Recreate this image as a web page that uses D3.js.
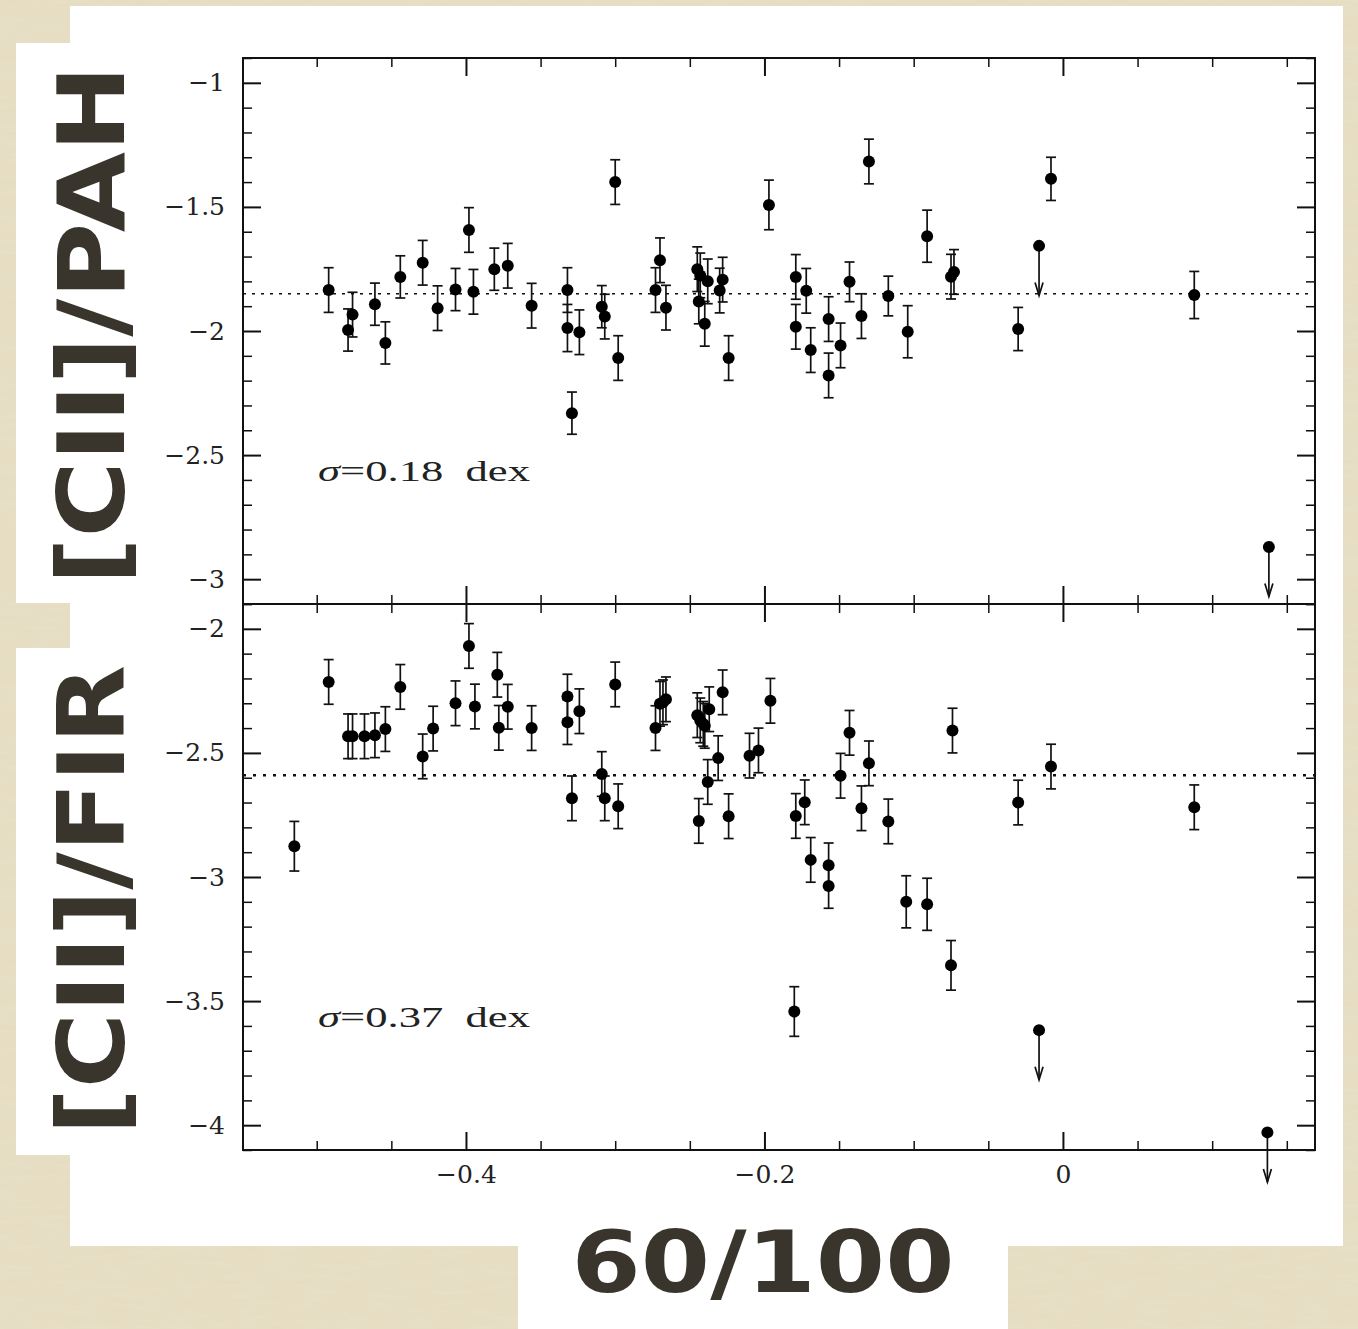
<!DOCTYPE html>
<html>
<head>
<meta charset="utf-8">
<script src="https://cdn.jsdelivr.net/npm/d3@7"></script>
<style>
  html, body { margin: 0; padding: 0; background: #e4dabd; }
  svg { display: block; }
</style>
</head>
<body>
<svg id="chart" width="1358" height="1329"></svg>
<script>
// 60/100 colour on the x axis, shared by both panels
const xTop = [-0.492,-0.479,-0.476,-0.461,-0.454,-0.444,-0.429,-0.419,-0.407,-0.398,-0.395,-0.381,-0.372,-0.356,-0.332,-0.332,-0.329,-0.324,-0.309,-0.307,-0.300,-0.298,-0.273,-0.270,-0.266,-0.245,-0.243,-0.244,-0.240,-0.238,-0.230,-0.228,-0.224,-0.197,-0.179,-0.179,-0.172,-0.169,-0.157,-0.157,-0.149,-0.143,-0.135,-0.130,-0.117,-0.104,-0.091,-0.075,-0.073,-0.030,-0.008,0.088];
const yTop = [-1.835,-1.996,-1.934,-1.892,-2.048,-1.782,-1.725,-1.908,-1.833,-1.593,-1.842,-1.751,-1.737,-1.898,-1.835,-1.988,-2.331,-2.005,-1.902,-1.942,-1.400,-2.109,-1.835,-1.715,-1.906,-1.751,-1.776,-1.881,-1.971,-1.800,-1.837,-1.793,-2.109,-1.492,-1.782,-1.983,-1.838,-2.077,-1.952,-2.179,-2.058,-1.802,-1.940,-1.317,-1.859,-2.003,-1.618,-1.781,-1.762,-1.992,-1.387,-1.855];
const eTop = [0.09,0.085,0.09,0.085,0.085,0.085,0.09,0.09,0.085,0.09,0.09,0.085,0.09,0.09,0.09,0.095,0.085,0.09,0.085,0.09,0.09,0.09,0.09,0.09,0.09,0.09,0.09,0.09,0.09,0.09,0.09,0.09,0.09,0.1,0.09,0.09,0.09,0.09,0.09,0.09,0.09,0.08,0.09,0.09,0.08,0.105,0.105,0.09,0.09,0.087,0.087,0.095];
const xTopLim = [-0.016, 0.138];
const yTopLim = [-1.657, -2.870];

const xBot = [-0.515,-0.492,-0.479,-0.476,-0.468,-0.461,-0.454,-0.444,-0.429,-0.422,-0.407,-0.398,-0.394,-0.379,-0.378,-0.372,-0.356,-0.332,-0.332,-0.329,-0.324,-0.309,-0.307,-0.300,-0.298,-0.273,-0.270,-0.268,-0.266,-0.245,-0.243,-0.241,-0.240,-0.237,-0.244,-0.238,-0.231,-0.228,-0.224,-0.210,-0.204,-0.196,-0.180,-0.179,-0.173,-0.169,-0.157,-0.157,-0.149,-0.143,-0.135,-0.130,-0.117,-0.105,-0.091,-0.074,-0.075,-0.030,-0.008,0.088];
const yBot = [-2.876,-2.214,-2.433,-2.433,-2.433,-2.429,-2.404,-2.234,-2.514,-2.402,-2.300,-2.069,-2.313,-2.185,-2.399,-2.314,-2.400,-2.273,-2.376,-2.683,-2.332,-2.585,-2.683,-2.224,-2.715,-2.400,-2.302,-2.296,-2.284,-2.348,-2.369,-2.383,-2.391,-2.324,-2.774,-2.617,-2.521,-2.256,-2.755,-2.511,-2.490,-2.290,-3.542,-2.754,-2.699,-2.931,-2.953,-3.036,-2.592,-2.419,-2.723,-2.542,-2.776,-3.100,-3.110,-2.410,-3.356,-2.700,-2.555,-2.719];
const eBot = [0.1,0.09,0.09,0.09,0.09,0.09,0.09,0.09,0.09,0.09,0.09,0.09,0.09,0.09,0.09,0.09,0.09,0.09,0.09,0.09,0.09,0.09,0.09,0.09,0.09,0.09,0.09,0.09,0.09,0.09,0.09,0.09,0.09,0.09,0.09,0.09,0.09,0.09,0.09,0.09,0.09,0.09,0.1,0.09,0.09,0.09,0.09,0.09,0.09,0.09,0.09,0.09,0.09,0.105,0.105,0.09,0.1,0.09,0.09,0.09];
const xBotLim = [-0.016, 0.137];
const yBotLim = [-3.617, -4.029];

const meanTop = -1.85;
const meanBot = -2.59;
const sigmaTop = "0.18";
const sigmaBot = "0.37";

const xMajor = [-0.4, -0.2, 0];
const xMinor = d3.range(-0.5, 0.16, 0.05).map(v => +v.toFixed(2));
const yTopMajor = [-3, -2.5, -2, -1.5, -1];
const yBotMajor = [-4, -3.5, -3, -2.5, -2];

const svg = d3.select("#chart");
const ink = "#111";
const brown = "#3a352c";

// paper texture behind everything
const defs = svg.append("defs");
const f = defs.append("filter").attr("id", "paper").attr("x", 0).attr("y", 0).attr("width", 1).attr("height", 1);
f.append("feTurbulence").attr("type", "fractalNoise").attr("baseFrequency", "0.03 0.2").attr("numOctaves", 3).attr("seed", 4);
f.append("feColorMatrix").attr("type", "matrix")
  .attr("values", "0 0 0 0 0.80  0 0 0 0 0.76  0 0 0 0 0.60  0 0 0 0.8 -0.15");
svg.append("rect").attr("width", 1358).attr("height", 1329).attr("fill", "#e6dcc1");
svg.append("rect").attr("width", 1358).attr("height", 1329).attr("filter", "url(#paper)");

// white cards
svg.append("rect").attr("x", 70).attr("y", 6).attr("width", 1273).attr("height", 1240).attr("fill", "#fff");
svg.append("rect").attr("x", 16).attr("y", 43).attr("width", 60).attr("height", 560).attr("fill", "#fff");
svg.append("rect").attr("x", 16).attr("y", 648).attr("width", 60).attr("height", 507).attr("fill", "#fff");
svg.append("rect").attr("x", 518).attr("y", 1240).attr("width", 490).attr("height", 89).attr("fill", "#fff");

const pL = 243, pR = 1315, pT = 58, pM = 604, pB = 1150;

const x = d3.scaleLinear().domain([-0.5494, 0.1689]).range([pL, pR]);
const yT = d3.scaleLinear().domain([-3.1, -0.9]).range([pM, pT]);
const yB = d3.scaleLinear().domain([-4.1, -1.9]).range([pB, pM]);

const fmt = d3.format("");
const serif = "'DejaVu Serif', 'Liberation Serif', serif";

function yAxes(y, major) {
  const minor = d3.range(Math.round(y.domain()[0] * 10), Math.round(y.domain()[1] * 10) + 1)
    .map(v => v / 10).filter(v => !major.includes(v));
  const gl = svg.append("g").attr("transform", `translate(${pL},0)`)
    .call(d3.axisLeft(y).tickValues(major).tickSizeInner(-18).tickSizeOuter(0).tickPadding(18).tickFormat(fmt));
  gl.select(".domain").remove();
  gl.selectAll("line").attr("stroke", ink).attr("stroke-width", 2);
  gl.selectAll("text").attr("font-family", serif)
    .attr("font-size", 25).attr("fill", "#222");
  const gm = svg.append("g").attr("transform", `translate(${pL},0)`)
    .call(d3.axisLeft(y).tickValues(minor).tickSizeInner(-9).tickSizeOuter(0).tickFormat(""));
  gm.select(".domain").remove();
  gm.selectAll("line").attr("stroke", ink).attr("stroke-width", 1.5);
  [[major, 18, 2], [minor, 9, 1.5]].forEach(([vals, len, w]) => {
    const g = svg.append("g").attr("transform", `translate(${pR},0)`)
      .call(d3.axisLeft(y).tickValues(vals).tickSizeInner(len).tickSizeOuter(0).tickFormat(""));
    g.select(".domain").remove();
    g.selectAll("line").attr("stroke", ink).attr("stroke-width", w);
  });
}

function xAxes(yPos, dir, labels) {
  const minor = xMinor.filter(v => !xMajor.some(m => Math.abs(m - v) < 1e-6));
  [[xMajor, 18, 2], [minor, 9, 1.5]].forEach(([vals, len, w], i) => {
    const ax = (dir === "up" ? d3.axisBottom(x) : d3.axisTop(x))
      .tickValues(vals).tickSizeInner(-len).tickSizeOuter(0)
      .tickFormat(labels && i === 0 ? fmt : "").tickPadding(15);
    const g = svg.append("g").attr("transform", `translate(0,${yPos})`).call(ax);
    g.select(".domain").remove();
    g.selectAll("line").attr("stroke", ink).attr("stroke-width", w);
    g.selectAll("text").attr("font-family", serif).attr("font-size", 25).attr("fill", "#222");
  });
}

yAxes(yT, yTopMajor);
yAxes(yB, yBotMajor);
xAxes(pT, "down", false);
xAxes(pM, "up", false);
xAxes(pM, "down", false);
xAxes(pB, "up", true);

// frames
svg.append("rect").attr("x", pL).attr("y", pT).attr("width", pR - pL).attr("height", pB - pT)
  .attr("fill", "none").attr("stroke", ink).attr("stroke-width", 2);
svg.append("line").attr("x1", pL).attr("x2", pR).attr("y1", pM).attr("y2", pM)
  .attr("stroke", ink).attr("stroke-width", 2);

function panel(xs, ys, es, xl, yl, y, mean, sigma, sigY, dash, dashW) {
  const g = svg.append("g");
  g.append("line").attr("x1", pL).attr("x2", pR).attr("y1", y(mean)).attr("y2", y(mean))
    .attr("stroke", ink).attr("stroke-width", dashW).attr("stroke-dasharray", dash);
  const pts = xs.map((v, i) => ({ x: v, y: ys[i], e: es[i] }));
  const eb = g.selectAll(".eb").data(pts).join("g").attr("class", "eb")
    .attr("stroke", ink).attr("stroke-width", 1.7);
  eb.append("line").attr("x1", d => x(d.x)).attr("x2", d => x(d.x))
    .attr("y1", d => y(d.y + d.e)).attr("y2", d => y(d.y - d.e));
  eb.append("line").attr("x1", d => x(d.x) - 5).attr("x2", d => x(d.x) + 5)
    .attr("y1", d => y(d.y + d.e)).attr("y2", d => y(d.y + d.e));
  eb.append("line").attr("x1", d => x(d.x) - 5).attr("x2", d => x(d.x) + 5)
    .attr("y1", d => y(d.y - d.e)).attr("y2", d => y(d.y - d.e));
  g.selectAll(".pt").data(pts).join("circle").attr("class", "pt")
    .attr("cx", d => x(d.x)).attr("cy", d => y(d.y)).attr("r", 6).attr("fill", "#000");

  // upper limits
  const lims = xl.map((v, i) => ({ x: v, y: yl[i] }));
  const lg = g.selectAll(".lim").data(lims).join("g").attr("class", "lim");
  lg.append("line").attr("x1", d => x(d.x)).attr("x2", d => x(d.x))
    .attr("y1", d => y(d.y)).attr("y2", d => y(d.y - 0.2))
    .attr("stroke", ink).attr("stroke-width", 1.7);
  lg.append("path").attr("fill", "none").attr("stroke", ink).attr("stroke-width", 1.7)
    .attr("d", d => {
      const cx = x(d.x), ty = y(d.y - 0.2);
      return `M${cx - 4},${ty - 13}L${cx},${ty}L${cx + 4},${ty - 13}`;
    });
  lg.append("circle").attr("cx", d => x(d.x)).attr("cy", d => y(d.y)).attr("r", 6).attr("fill", "#000");

  const t = g.append("text").attr("x", 318).attr("y", sigY)
    .attr("font-family", "'Liberation Serif', serif").attr("font-size", 30)
    .attr("fill", "#222").attr("textLength", 212).attr("lengthAdjust", "spacingAndGlyphs");
  t.append("tspan").attr("font-style", "italic").text("σ");
  t.append("tspan").text(`=${sigma}\u2002dex`);
}

panel(xTop, yTop, eTop, xTopLim, yTopLim, yT, meanTop, sigmaTop, 481, "3,6", 1.5);
panel(xBot, yBot, eBot, xBotLim, yBotLim, yB, meanBot, sigmaBot, 1027, "3,7", 2.6);

// big slide labels
const big = "'DejaVu Sans', 'Noto Sans', sans-serif";
svg.append("text").attr("transform", "translate(124,325) rotate(-90)")
  .attr("text-anchor", "middle").attr("font-family", big).attr("font-weight", "bold")
  .attr("font-size", 92).attr("fill", brown)
  .attr("textLength", 520).attr("lengthAdjust", "spacingAndGlyphs").text("[CII]/PAH");
svg.append("text").attr("transform", "translate(124,900) rotate(-90)")
  .attr("text-anchor", "middle").attr("font-family", big).attr("font-weight", "bold")
  .attr("font-size", 92).attr("fill", brown)
  .attr("textLength", 470).attr("lengthAdjust", "spacingAndGlyphs").text("[CII]/FIR");
svg.append("text").attr("x", 763).attr("y", 1292)
  .attr("text-anchor", "middle").attr("font-family", big).attr("font-weight", "bold")
  .attr("font-size", 86).attr("fill", brown)
  .attr("textLength", 383).attr("lengthAdjust", "spacingAndGlyphs").text("60/100");
</script>
</body>
</html>
